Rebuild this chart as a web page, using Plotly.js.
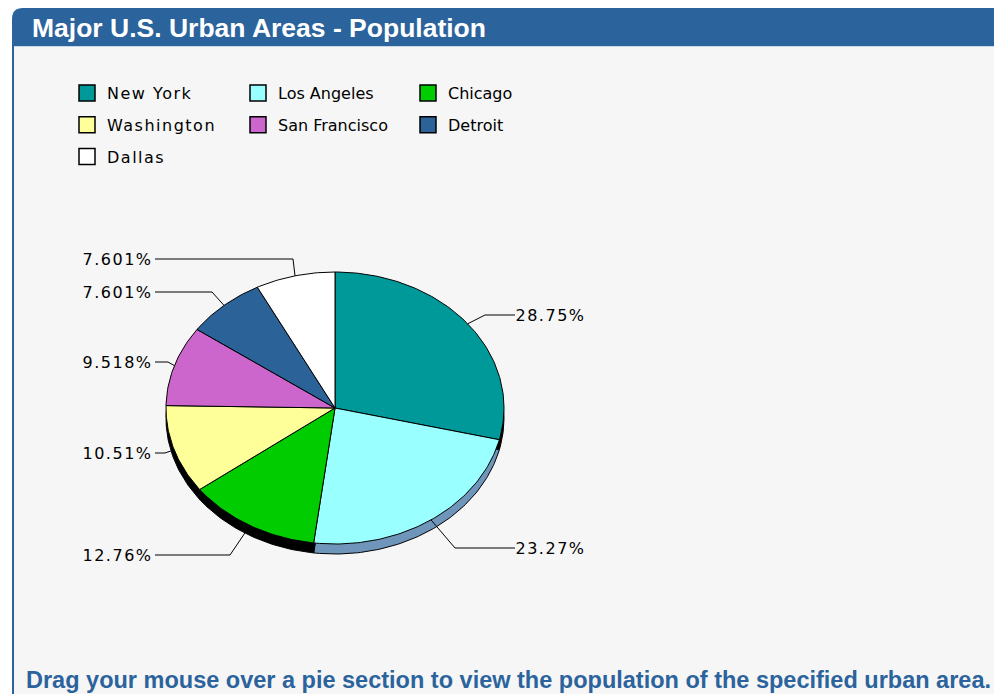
<!DOCTYPE html>
<html><head><meta charset="utf-8">
<script src="https://cdn.plot.ly/plotly-3.0.1.min.js"></script>
<style>
html,body{margin:0;padding:0;background:#ffffff;}
#chart{width:994px;height:694px;}
.legendtext{letter-spacing:1.5px;}
.annotation .annotation-text{letter-spacing:1.5px;}
.annotation[data-index="0"] .annotation-text{letter-spacing:0px;}
</style></head><body><div id="chart"></div>
<script>
// ---- data ----
const cities = ['New York','Los Angeles','Chicago','Washington','San Francisco','Detroit','Dallas'];
const shares = [28.75, 23.27, 12.76, 10.51, 9.518, 7.601, 7.601];
const colors = ['#009999','#99FFFF','#00CC00','#FFFF99','#CC66CC','#2B6298','#FFFFFF'];
const sideColors = ['#000000','#6F96BA','#000000','#000000','#000000','#000000','#000000'];
const titleText = 'Major U.S. Urban Areas - Population';
const footerText = 'Drag your mouse over a pie section to view the population of the specified urban area.';

// ---- layout geometry (pixel-space axes) ----
const W = 994, H = 694;
const CX = 335, CY = 408, RX = 169, RY = 136, DEPTH = 10;
const labelAnchor = [[518,315,'left'],[518,548,'left'],[150,555,'right'],[150,453,'right'],[150,362,'right'],[150,292,'right'],[150,259,'right']];
const elbowX = [485,455,230,165,168,212,293];
const BLUE = '#2B639C';

const total = shares.reduce((a,b)=>a+b,0);
let cum = 0; const bounds = [];
shares.forEach(v => { const a0 = cum/total*360; cum += v; bounds.push([a0, cum/total*360]); });
function pt(a, dy){ const r = a*Math.PI/180; return [CX + RX*Math.sin(r), CY - RY*Math.cos(r) + dy]; }
function slicePath(a0, a1, dy){
  const xs=[CX], ys=[CY+dy];
  const n = Math.max(2, Math.ceil(a1-a0));
  for(let k=0;k<=n;k++){ const p = pt(a0+(a1-a0)*k/n, dy); xs.push(p[0]); ys.push(p[1]); }
  xs.push(CX); ys.push(CY+dy);
  return {xs, ys};
}

const traces = [];
// side (3D depth) layer
bounds.forEach((b,i) => {
  const p = slicePath(b[0], b[1], DEPTH);
  traces.push({type:'scatter', mode:'lines', x:p.xs, y:p.ys, fill:'toself', fillcolor:sideColors[i],
    line:{color:'#000000', width:1}, showlegend:false, hoverinfo:'skip'});
});
// top layer
bounds.forEach((b,i) => {
  const p = slicePath(b[0], b[1], 0);
  traces.push({type:'scatter', mode:'lines', x:p.xs, y:p.ys, fill:'toself', fillcolor:colors[i],
    line:{color:'#000000', width:1}, showlegend:false, hoveron:'fills', hoverinfo:'text',
    text: cities[i] + ': ' + shares[i].toPrecision(4) + '%'});
});
// leader lines
const lx=[], ly=[];
bounds.forEach((b,i) => {
  const e = pt((b[0]+b[1])/2, 0);
  const a = labelAnchor[i];
  const endX = a[2]==='left' ? a[0]-3 : a[0]+5;
  lx.push(e[0], elbowX[i], endX, null);
  ly.push(e[1], a[1], a[1], null);
});
traces.push({type:'scatter', mode:'lines', x:lx, y:ly, line:{color:'#000000', width:1}, showlegend:false, hoverinfo:'skip'});
// legend entries
const legNames = ['legend','legend2','legend3'];
cities.forEach((c,i) => {
  traces.push({type:'scatter', mode:'markers', x:[null], y:[null], name:c,
    legend: legNames[i%3], legendgroup:'g'+i,
    marker:{symbol:'square', size:16, color:colors[i], line:{color:'#000000', width:1.5}},
    showlegend:true, hoverinfo:'skip'});
});

const annotations = [{
  text: footerText, xref:'x', yref:'y', x:24, y:680, xanchor:'left', yanchor:'middle', showarrow:false,
  font:{family:'Liberation Sans, Arial, sans-serif', size:23.5, weight:700, color:BLUE}
}];
bounds.forEach((b,i) => {
  const a = labelAnchor[i];
  annotations.push({text: shares[i].toPrecision(4)+'%', xref:'x', yref:'y', x:a[0], y:a[1],
    xanchor:a[2], yanchor:'middle', showarrow:false,
    font:{family:'DejaVu Sans, sans-serif', size:16, color:'#000000'}});
});

const legBase = {yanchor:'top', xanchor:'left', orientation:'v', traceorder:'grouped', tracegroupgap:8,
  bgcolor:'rgba(0,0,0,0)', borderwidth:0, font:{family:'DejaVu Sans, sans-serif', size:16, color:'#000000'},
  itemclick:false, itemdoubleclick:false};
const legTop = 1 - 76/H;

const layout = {
  width:W, height:H, margin:{l:0,r:0,t:0,b:0},
  paper_bgcolor:'#ffffff', plot_bgcolor:'#ffffff',
  xaxis:{range:[0,W], visible:false, fixedrange:true},
  yaxis:{range:[H,0], visible:false, fixedrange:true},
  title:{text:titleText, x:32/W, xanchor:'left', y:1-27.5/H, yanchor:'middle', yref:'container',
    font:{family:'Liberation Sans, Arial, sans-serif', size:26.5, weight:700, color:'#ffffff'}},
  legend: Object.assign({}, legBase, {x:67/W, y:legTop}),
  legend2: Object.assign({}, legBase, {x:238/W, y:legTop}),
  legend3: Object.assign({}, legBase, {x:408/W, y:legTop}),
  shapes:[
    {type:'rect', xref:'x', yref:'y', x0:12, x1:W, y0:46, y1:H, fillcolor:'#F6F6F6', line:{width:0}, layer:'below'},
    {type:'path', xref:'x', yref:'y', path:'M12,47 L12,19 Q12,8 23,8 L994,8 L994,47 Z', fillcolor:BLUE, line:{width:0}, layer:'below'},
    {type:'line', xref:'x', yref:'y', x0:12, x1:W, y0:46.5, y1:46.5, line:{color:'#C9D7E6', width:1}, layer:'below'},
    {type:'line', xref:'x', yref:'y', x0:13, x1:13, y0:46, y1:H, line:{color:BLUE, width:2}, layer:'below'}
  ],
  annotations: annotations,
  hovermode:'closest', showlegend:true
};

Plotly.newPlot('chart', traces, layout, {displayModeBar:false, staticPlot:false});
</script></body></html>
